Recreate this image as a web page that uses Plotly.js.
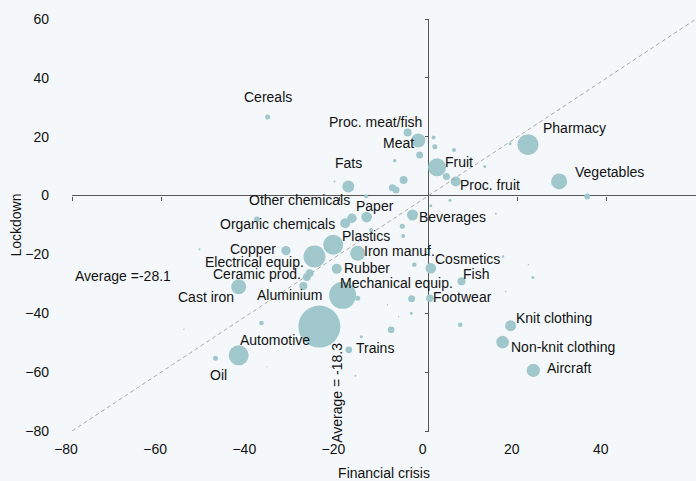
<!DOCTYPE html>
<html>
<head>
<meta charset="utf-8">
<script src="https://cdn.plot.ly/plotly-3.0.1.min.js"></script>
<style>html,body{margin:0;padding:0;background:#f4f8fa;}#chart{width:696px;height:481px;}</style>
</head>
<body>
<div id="chart"></div>
<script>
// Sector names ('' = unlabelled sector)
const sectors = [
  'Cereals','Proc. meat/fish','Meat','Fruit','Proc. fruit','Pharmacy','Vegetables','Fats',
  'Beverages','Paper','Other chemicals','Organic chemicals','Plastics','Iron manuf.','Copper',
  'Electrical equip.','Rubber','Cosmetics','Ceramic prod.','Cast iron','Aluminium',
  'Mechanical equip.','Fish','Footwear','Knit clothing','Non-knit clothing','Aircraft',
  'Automotive','Trains','Oil',
  '','','','','','','','','','','','','','','','','','','','','','','','','','','','','','','','','','','','','','','',''
];
// Change in trade during the financial crisis (%)
const financialCrisis = [
  -36.1,-4.7,-2.3,1.9,6.1,22.3,29.3,-18.0,
  -3.6,-13.9,-17.2,-18.7,-21.4,-15.9,-32.0,
  -25.6,-20.6,0.5,-26.7,-42.6,-28.1,
  -19.3,7.4,0.3,18.4,16.6,23.5,
  -24.5,-17.9,-47.8,
  -38.5,-26.9,-51.4,-54.9,-37.5,-36.3,-16.4,-15.1,-8.4,-9.2,-6.7,-3.9,-3.8,-15.9,
  7.1,-3.2,-5.7,-5.9,-12.9,0.5,4.8,15.1,16.7,22.4,23.4,17.3,35.6,18.3,12.6,5.7,
  1.1,1.4,-2.0,-7.6,4.0,-5.6,-8.1,-7.3,-21.1,-14.0,-42.6,-27.3
];
// Change in trade during the lockdown (%)
const lockdown = [
  26.7,21.4,18.7,9.6,4.8,17.3,4.8,3.1,
  -6.6,-7.3,-7.7,-9.4,-16.7,-19.6,-18.7,
  -20.7,-24.9,-24.7,-26.4,-31.0,-30.7,
  -33.9,-29.1,-34.9,-44.2,-49.8,-59.4,
  -44.5,-52.4,-55.3,
  -8.1,-11.4,-18.2,-45.4,-43.3,-58.2,-61.2,-48.0,-45.6,-37.1,-41.1,-40.0,-35.1,-34.9,
  -43.9,-23.5,-13.7,-10.4,-11.7,-3.5,-1.6,-6.2,-20.7,-23.5,-27.8,-32.6,-0.3,17.6,9.9,15.5,
  19.7,16.6,13.8,11.8,6.5,5.3,2.7,1.9,4.8,-0.2,-54.3,-27.7
];
// Trade weight (bubble area, arbitrary units)
const tradeWeight = [
  25,64,196,324,100,441,256,144,
  121,114,90,100,400,225,86,
  484,100,114,64,225,64,
  729,64,56,121,161,177,
  1764,45,25,
  36,16,4,2,22,2,4,9,45,2,2,9,49,25,
  22,22,16,25,16,9,9,4,6,2,9,2,36,9,9,16,
  16,25,49,12,49,64,49,49,4,16,400,64
];
const avgCrisis = -18.3;
const avgLockdown = -28.1;
const diagonal = [-80, 60];
const tickValues = [-80,-60,-40,-20,0,20,40,60];

// Label placement (pixel offsets of label centre from bubble centre: [dx, dy], dy down)
const labelOffset = {
  'Cereals':[0,-20],'Proc. meat/fish':[-32,-11],'Meat':[-20,2],'Fruit':[22,-5],
  'Proc. fruit':[34,4],'Pharmacy':[47,-17],'Vegetables':[50,-9],'Fats':[0,-23],
  'Beverages':[40,2],'Paper':[8,-11],'Other chemicals':[-52,-18],'Organic chemicals':[-68,1],
  'Plastics':[33,-9],'Iron manuf.':[42,-2],'Copper':[-33,-2],'Electrical equip.':[-60,6],
  'Rubber':[30,-1],'Cosmetics':[37,-9],'Ceramic prod.':[-53,1],'Cast iron':[-33,10],
  'Aluminium':[-14,9],'Mechanical equip.':[54,-12],'Fish':[14,-7],'Footwear':[33,-1],
  'Knit clothing':[43,-8],'Non-knit clothing':[60,5],'Aircraft':[36,-2],
  'Automotive':[-44,13],'Trains':[26,-2],'Oil':[3,17]
};

const FONT = 'Liberation Sans, Arial, sans-serif';
const FS = 14;
const TXT = '#111111';
const AX = '#555555';

const traces = [
  {
    x: diagonal, y: diagonal, mode: 'lines', type: 'scatter', xaxis: 'x2', yaxis: 'y2',
    line: {color: '#a9a9a9', width: 1, dash: '4px,3px'}, hoverinfo: 'skip'
  },
  {
    x: financialCrisis, y: lockdown, mode: 'markers', type: 'scatter',
    text: sectors,
    marker: {size: tradeWeight, sizemode: 'area', sizeref: 2, color: '#9fc7cc', line: {width: 0}, opacity: 1}
  }
];

const annotations = [];
sectors.forEach((s, i) => {
  if (!s) return;
  const o = labelOffset[s] || [0, 0];
  annotations.push({
    x: financialCrisis[i], y: lockdown[i], xref: 'x', yref: 'y', text: s,
    showarrow: false, xshift: o[0], yshift: -o[1],
    font: {family: FONT, size: FS, color: TXT}
  });
});
annotations.push({
  x: -80, y: avgLockdown, xref: 'x', yref: 'y', text: 'Average =' + avgLockdown.toFixed(1),
  showarrow: false, xanchor: 'left', xshift: 1, yshift: 2,
  font: {family: FONT, size: FS, color: TXT}
});
annotations.push({
  x: avgCrisis, y: -67.0, xref: 'x', yref: 'y', text: 'Average = ' + avgCrisis.toFixed(1),
  showarrow: false, textangle: -90, xshift: -10,
  font: {family: FONT, size: FS, color: TXT}
});

const zeroFrac = (0 - (-80)) / (60 - (-80));

const layout = {
  width: 696, height: 481,
  margin: {l: 72, r: 0, t: 19, b: 50},
  paper_bgcolor: '#f4f8fa', plot_bgcolor: '#f4f8fa',
  showlegend: false, hovermode: false,
  font: {family: FONT, size: FS, color: TXT},
  xaxis: {
    range: [-80, 60], tickvals: tickValues, showgrid: false, showline: false,
    zeroline: true, zerolinecolor: AX, zerolinewidth: 1,
    ticks: '', ticklabelstandoff: 8, ticklabelshift: -6, automargin: false,
    tickfont: {family: FONT, size: FS, color: TXT},
    title: {text: 'Financial crisis', font: {family: FONT, size: FS, color: TXT}, standoff: 13}
  },
  yaxis: {
    range: [-80, 60], tickvals: tickValues, showgrid: false, showline: false,
    zeroline: true, zerolinecolor: AX, zerolinewidth: 1,
    ticks: '', ticklabelstandoff: 22, automargin: false,
    tickfont: {family: FONT, size: FS, color: TXT},
    title: {text: 'Lockdown', font: {family: FONT, size: FS, color: TXT}, standoff: 0}
  },
  xaxis2: {
    overlaying: 'x', anchor: 'free', position: zeroFrac, range: [-80, 60], tickvals: tickValues,
    showgrid: false, zeroline: false, showline: false,
    ticks: 'outside', ticklen: 4, tickcolor: AX, tickwidth: 1, showticklabels: false
  },
  yaxis2: {
    overlaying: 'y', anchor: 'free', position: zeroFrac, side: 'left', range: [-80, 60], tickvals: tickValues,
    showgrid: false, zeroline: false, showline: false,
    ticks: 'outside', ticklen: 4, tickcolor: AX, tickwidth: 1, showticklabels: false
  },
  annotations: annotations
};

Plotly.newPlot('chart', traces, layout, {displayModeBar: false, staticPlot: true});
</script>
</body>
</html>
